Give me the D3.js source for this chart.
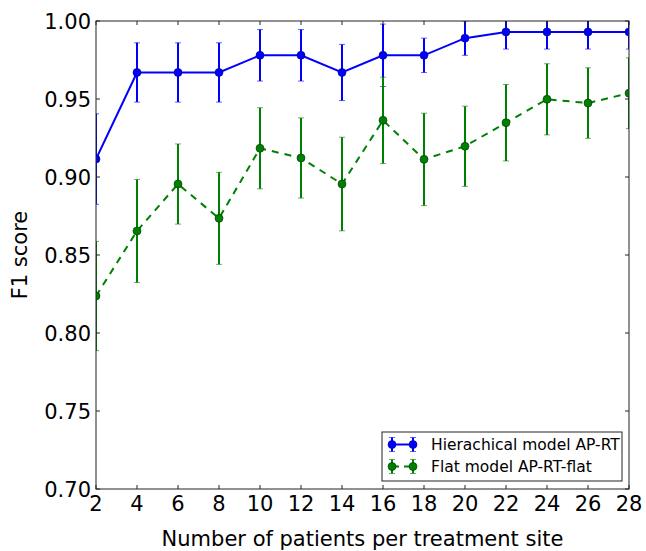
<!DOCTYPE html>
<html><head><meta charset="utf-8">
<script src="https://cdn.jsdelivr.net/npm/d3@7/dist/d3.min.js"></script>
<style>body{margin:0;background:#fff}svg{display:block}text{font-family:"DejaVu Sans",sans-serif}</style>
</head><body><svg id="c" width="646" height="551"></svg>
<script>
const patients = [2,4,6,8,10,12,14,16,18,20,22,24,26,28];
const hierF1 = [0.9115,0.967,0.967,0.967,0.978,0.978,0.967,0.978,0.978,0.989,0.993,0.993,0.993,0.993];
const hierErr = [0.029,0.019,0.019,0.019,0.0165,0.0165,0.018,0.020,0.011,0.011,0.011,0.011,0.011,0.011];
const flatF1 = [0.8237,0.8654,0.8955,0.8735,0.9184,0.9122,0.8955,0.9363,0.9113,0.9197,0.9348,0.9498,0.9474,0.9537];
const flatErr = [0.035,0.033,0.0257,0.0295,0.026,0.0257,0.030,0.0277,0.0296,0.0257,0.0245,0.0228,0.0226,0.0227];
const xTicks = [2,4,6,8,10,12,14,16,18,20,22,24,26,28];
const yTicks = [0.70,0.75,0.80,0.85,0.90,0.95,1.00];
const seriesNames = ["Hierachical model AP-RT","Flat model AP-RT-flat"];

const L=96,R=629,T=21,B=489;
const svg=d3.select("#c");
const x=d3.scaleLinear().domain([2,28]).range([L,R]);
const y=d3.scaleLinear().domain([0.70,1.00]).range([B,T]);

svg.append("defs").append("clipPath").attr("id","clip").append("rect")
  .attr("x",L).attr("y",T).attr("width",R-L).attr("height",B-T);

const series=[
  {v:hierF1,e:hierErr,color:"#0000ff",dash:null,edge:"#00007a"},
  {v:flatF1,e:flatErr,color:"#008000",dash:"7,6",edge:"#003300"}
];
const g=svg.append("g").attr("clip-path","url(#clip)");
// draw flat first then hier on top? matplotlib order: hier first, flat over
series.forEach(s=>{
  const data=patients.map((p,i)=>({p,v:s.v[i],e:s.e[i]}));
  const eg=g.append("g");
  data.forEach(d=>{
    eg.append("line").attr("x1",x(d.p)).attr("x2",x(d.p)).attr("y1",y(d.v-d.e)).attr("y2",y(d.v+d.e))
      .attr("stroke",s.color).attr("stroke-width",2);
    [d.v-d.e,d.v+d.e].forEach(c=>{
      eg.append("line").attr("x1",x(d.p)-3).attr("x2",x(d.p)+3).attr("y1",y(c)).attr("y2",y(c))
        .attr("stroke",s.color).attr("stroke-width",1).attr("opacity",0.6);
    });
  });
  g.append("path").datum(data).attr("fill","none").attr("stroke",s.color).attr("stroke-width",2)
    .attr("stroke-dasharray",s.dash).attr("d",d3.line().x(d=>x(d.p)).y(d=>y(d.v)));
  g.selectAll(null).data(data).enter().append("circle").attr("cx",d=>x(d.p)).attr("cy",d=>y(d.v)).attr("r",4)
    .attr("fill",s.color).attr("stroke",s.edge).attr("stroke-width",0.6);
});

// axes with inward ticks on all sides
const ax=svg.append("g");
ax.append("rect").attr("x",L).attr("y",T).attr("width",R-L).attr("height",B-T).attr("fill","none").attr("stroke","#222").attr("stroke-width",1);
xTicks.forEach(t=>{
  ax.append("line").attr("x1",x(t)).attr("x2",x(t)).attr("y1",B).attr("y2",B-4).attr("stroke","#222");
  ax.append("line").attr("x1",x(t)).attr("x2",x(t)).attr("y1",T).attr("y2",T+4).attr("stroke","#222");
  ax.append("text").attr("x",x(t)).attr("y",511).attr("text-anchor","middle").attr("font-size",21).attr("fill","#000").text(t);
});
yTicks.forEach(t=>{
  ax.append("line").attr("x1",L).attr("x2",L+4).attr("y1",y(t)).attr("y2",y(t)).attr("stroke","#222");
  ax.append("line").attr("x1",R).attr("x2",R-4).attr("y1",y(t)).attr("y2",y(t)).attr("stroke","#222");
  ax.append("text").attr("x",91).attr("y",y(t)).attr("dy","0.36em").attr("text-anchor","end").attr("font-size",21).attr("fill","#000").text(d3.format(".2f")(t));
});
svg.append("text").attr("x",(L+R)/2).attr("y",546).attr("text-anchor","middle").attr("font-size",21).text("Number of patients per treatment site");
svg.append("text").attr("transform",`translate(27,${(T+B)/2}) rotate(-90)`).attr("text-anchor","middle").attr("font-size",21).text("F1 score");

// legend
const lg=svg.append("g");
lg.append("rect").attr("x",382).attr("y",432).attr("width",240).attr("height",49).attr("fill","#fff").attr("stroke","#222").attr("stroke-width",1);
[444.5,466.5].forEach((cy,i)=>{
  const s=series[i];
  const x1=392,x2=413;
  lg.append("line").attr("x1",x1).attr("x2",x2).attr("y1",cy).attr("y2",cy).attr("stroke",s.color).attr("stroke-width",2).attr("stroke-dasharray",s.dash?"5,5":null).attr("stroke-dashoffset",s.dash?-2:0);
  [x1,x2].forEach(px=>{
    lg.append("line").attr("x1",px).attr("x2",px).attr("y1",cy-7).attr("y2",cy+7).attr("stroke",s.color).attr("stroke-width",2);
    [cy-7,cy+7].forEach(c=>lg.append("line").attr("x1",px-3).attr("x2",px+3).attr("y1",c).attr("y2",c).attr("stroke",s.color).attr("opacity",0.6));
    lg.append("circle").attr("cx",px).attr("cy",cy).attr("r",4).attr("fill",s.color).attr("stroke",s.edge).attr("stroke-width",0.6);
  });
  lg.append("text").attr("x",431).attr("y",cy).attr("dy","0.36em").attr("font-size",15.5).text(seriesNames[i]);
});
</script></body></html>
